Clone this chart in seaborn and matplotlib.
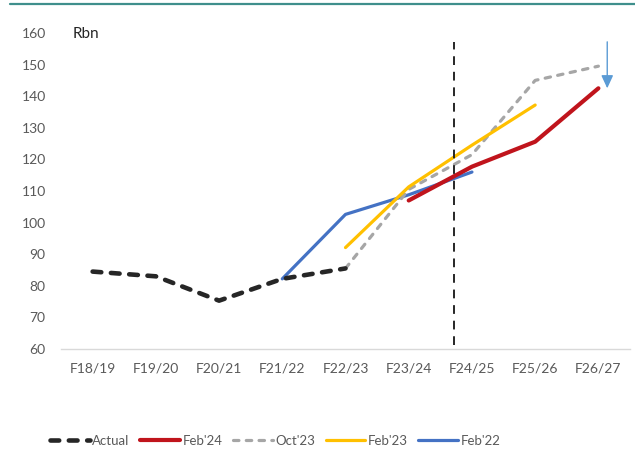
import matplotlib
matplotlib.use("Agg")
import matplotlib.pyplot as plt
from matplotlib.lines import Line2D
import numpy as np
import pandas as pd
import seaborn as sns

# Financial years on the x axis
years = ["F18/19", "F19/20", "F20/21", "F21/22", "F22/23",
         "F23/24", "F24/25", "F25/26", "F26/27"]

# Rbn values per series (None = not part of that series)
actual = [84.5, 83.0, 75.3, 82.2, 85.5, None, None, None, None]
feb24 = [None, None, None, None, None, 107.0, 117.7, 125.6, 142.5]
oct23 = [None, None, None, None, 85.5, 110.5, 121.5, 145.0, 149.5]
feb23 = [None, None, None, None, 92.1, 111.3, 124.5, 137.2, None]
feb22 = [None, None, None, 82.2, 102.6, 108.8, 116.0, None, None]

y_ticks = [60, 70, 80, 90, 100, 110, 120, 130, 140, 150, 160]
unit_label = "Rbn"

sns.set_theme(style="white")
plt.rcParams["font.family"] = ["Lato", "DejaVu Sans"]

text_grey = "#595959"
colors = {
    "Actual": "#262626",
    "Feb'24": "#c0141c",
    "Oct'23": "#a6a6a6",
    "Feb'23": "#ffc000",
    "Feb'22": "#4472c4",
}
widths = {"Actual": 3.3, "Feb'24": 3.0, "Oct'23": 2.3, "Feb'23": 2.3, "Feb'22": 2.3}
dash_styles = {
    "Actual": (0, (1.9, 2.1)),
    "Feb'24": "-",
    "Oct'23": (0, (1.7, 2.3)),
    "Feb'23": "-",
    "Feb'22": "-",
}
series = {
    "Actual": actual,
    "Feb'24": feb24,
    "Oct'23": oct23,
    "Feb'23": feb23,
    "Feb'22": feb22,
}

fig = plt.figure(figsize=(6.35, 4.68), dpi=100)
ax = fig.add_axes([61 / 635, 1 - 349 / 468, (630 - 61) / 635, (349 - 33) / 468])

draw_order = ["Feb'22", "Oct'23", "Feb'23", "Feb'24", "Actual"]
for name in draw_order:
    df = pd.DataFrame({"x": np.arange(len(years)), "y": series[name]}).dropna()
    sns.lineplot(data=df, x="x", y="y", ax=ax, color=colors[name],
                 linewidth=widths[name], linestyle=dash_styles[name],
                 dash_capstyle="round", solid_capstyle="round", legend=False)

# Marker for the current point in time
ax.vlines(5.71, 61.3, 157, colors="#262626", linewidth=1.4,
          linestyles=(0, (4.5, 3.5)))

# Downward arrow above the last forecast year
ax.annotate("", xy=(8.14, 142.5), xytext=(8.14, 157.2),
            arrowprops=dict(arrowstyle="-|>,head_width=0.3,head_length=0.65",
                            color="#5b9bd5", lw=1.0, shrinkA=0, shrinkB=0))

ax.set_xlim(-0.5, 8.5)
ax.set_ylim(60, 160)
ax.set_xticks(range(len(years)))
ax.set_xticklabels(years)
ax.set_yticks(y_ticks)
ax.set_xlabel("")
ax.set_ylabel("")
ax.tick_params(axis="both", length=0, labelsize=10, colors=text_grey)
ax.tick_params(axis="y", pad=11)
ax.tick_params(axis="x", pad=10)
for s in ["top", "right", "left"]:
    ax.spines[s].set_visible(False)
ax.spines["bottom"].set_color("#d9d9d9")
ax.spines["bottom"].set_linewidth(1.0)
ax.grid(False)

fig.text(73 / 635, 1 - 34 / 468, unit_label, fontsize=11, color="#262626",
         ha="left", va="center")

# Teal rule along the top edge
fig.add_artist(Line2D([10 / 635, 1], [1 - 3.5 / 468, 1 - 3.5 / 468],
                      color="#3f8f8c", linewidth=1.6, transform=fig.transFigure))

legend_order = ["Actual", "Feb'24", "Oct'23", "Feb'23", "Feb'22"]
handles = [Line2D([], [], color=colors[n], linewidth=widths[n],
                  linestyle=dash_styles[n], dash_capstyle="round",
                  solid_capstyle="round") for n in legend_order]
leg = fig.legend(handles, legend_order, loc="center left",
                 bbox_to_anchor=(50 / 635, 1 - 441 / 468), ncol=5, frameon=False,
                 fontsize=9.5, handlelength=3.0, handletextpad=0.2,
                 columnspacing=0.8, borderaxespad=0, borderpad=0)
for t in leg.get_texts():
    t.set_color(text_grey)

fig.savefig("out.png", dpi=100, facecolor="white")
